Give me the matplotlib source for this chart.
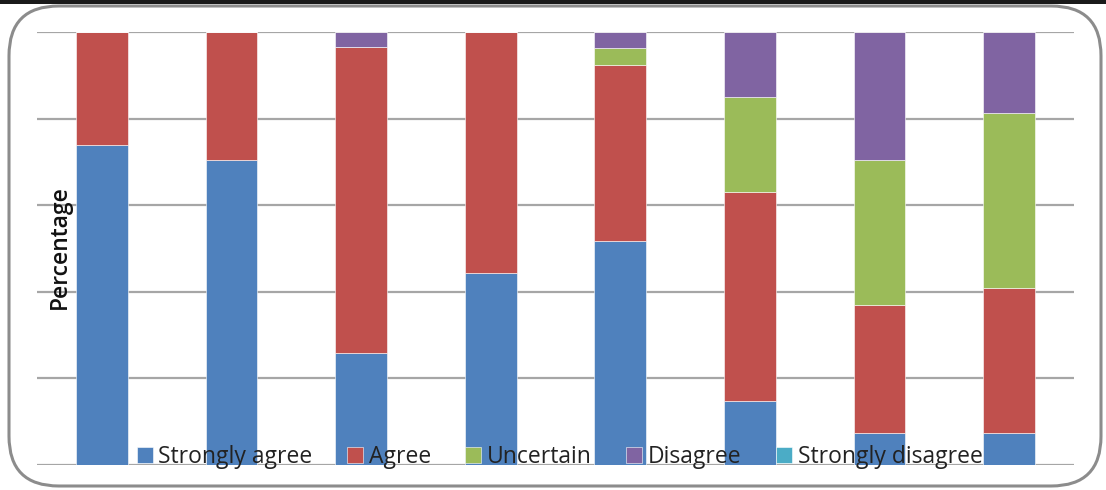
import matplotlib.pyplot as plt
from matplotlib.patches import FancyBboxPatch, Rectangle
import numpy as np

plt.rcParams['font.family'] = ['Open Sans', 'DejaVu Sans']

items = ["Q1", "Q2", "Q3", "Q4", "Q5", "Q6", "Q7", "Q8"]
strongly_agree = [73.9, 70.4, 25.9, 44.3, 51.7, 14.8, 7.4, 7.4]
agree = [26.1, 29.6, 70.6, 55.7, 40.6, 48.2, 29.6, 33.4]
uncertain = [0, 0, 0, 0, 4.0, 22.0, 33.4, 40.4]
disagree = [0, 0, 3.5, 0, 3.7, 15.0, 29.6, 18.8]
strongly_disagree = [0, 0, 0, 0, 0, 0, 0, 0]

series = [
    ("Strongly agree", strongly_agree, "#4F81BD"),
    ("Agree", agree, "#C0504D"),
    ("Uncertain", uncertain, "#9BBB59"),
    ("Disagree", disagree, "#8064A2"),
    ("Strongly disagree", strongly_disagree, "#4BACC6"),
]

fig = plt.figure(figsize=(11.06, 4.90), dpi=100)

# rounded chart frame plus dark strip along the top edge
fig.patches.append(Rectangle((0, 1 - 4 / 490), 1, 4 / 490, transform=fig.transFigure,
                             facecolor="#1a1a1a", edgecolor="none", zorder=-2))
frame = FancyBboxPatch((9 / 1106, 4 / 490), 1092 / 1106, 480 / 490,
                       boxstyle="round,pad=0,rounding_size=0.045",
                       transform=fig.transFigure, facecolor="white",
                       edgecolor="#8c8c8c", linewidth=2.2, zorder=-1,
                       mutation_aspect=1106 / 490)
fig.patches.append(frame)

ax = fig.add_axes([37 / 1106, 25 / 490, 1037 / 1106, 433 / 490])
ax.set_facecolor("none")

x = np.arange(len(items))
bottom = np.zeros(len(items))
for name, vals, color in series:
    vals = np.array(vals, dtype=float)
    ax.bar(x, vals, 0.4, bottom=bottom, color=color, edgecolor="white",
           linewidth=0.4, label=name, zorder=3)
    bottom += vals

ax.set_xlim(-0.5, len(items) - 0.5)
ax.set_ylim(0, 100)
ax.set_yticks(np.arange(0, 101, 20))
ax.yaxis.grid(True, color="#a6a6a6", linewidth=1.6, zorder=1)
ax.set_axisbelow(True)
ax.tick_params(left=False, bottom=False, labelleft=False, labelbottom=False)
for s in ax.spines.values():
    s.set_visible(False)

ax.text(60 / 1106, 1 - 247 / 490, "Percentage", transform=fig.transFigure,
        rotation=90, ha="center", va="center", fontsize=16.5,
        fontweight="semibold", color="#111111", zorder=6)

leg = ax.legend(loc="lower center", bbox_to_anchor=(0.504, -0.03), ncol=5,
                frameon=False, fontsize=16.5, handlelength=0.7, handleheight=0.7,
                handletextpad=0.25, columnspacing=1.5, borderaxespad=0)
leg.set_zorder(5)
for t in leg.get_texts():
    t.set_color("#222222")

fig.savefig("out.png", dpi=100)
